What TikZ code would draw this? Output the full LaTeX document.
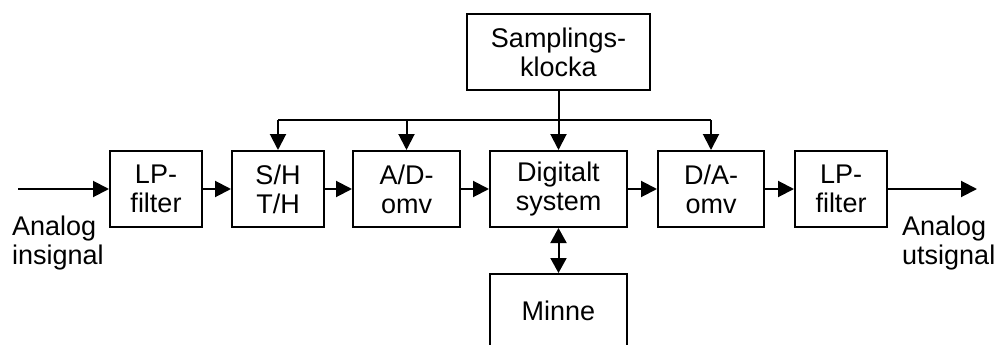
\documentclass[tikz,border=0pt]{standalone}
\usepackage{fontspec}
\setmainfont{Liberation Sans}
\usetikzlibrary{arrows.meta}
\begin{document}
\begin{tikzpicture}[x=1pt,y=-1pt,
  txt/.style={font=\fontsize{27}{29}\selectfont},
  box/.style={txt, draw, line width=2pt, align=center, inner sep=0pt,
              minimum height=76pt},
  lbl/.style={txt, align=left, inner sep=0pt},
  wire/.style={line width=2pt},
  sig/.style={wire, -{Triangle[length=16pt,width=16pt]}},
  bidir/.style={wire, {Triangle[length=15pt,width=16pt]}-{Triangle[length=15pt,width=16pt]}}]
  % page frame
  \fill[white] (0,0) rectangle (996,345);
  \useasboundingbox (0,0) rectangle (996,345);
  \clip (0,0) rectangle (996,345);

  % signal chain
  \node[box, minimum width=92pt]  (lp1) at (156,189)   {LP-\\filter};
  \node[box, minimum width=92pt]  (sh)  at (278,189)   {S/H\\T/H};
  \node[box, minimum width=107pt] (ad)  at (406.5,189) {A/D-\\omv};
  \node[box, minimum width=137pt] (dig) at (558.5,189) {Digitalt\\system};
  \node[box, minimum width=106pt] (da)  at (711,189)   {D/A-\\omv};
  \node[box, minimum width=92pt]  (lp2) at (841,189)   {LP-\\filter};

  % clock and memory
  \node[box, minimum width=183pt] (clk) at (558.5,52) {Samplings-\\klocka};
  \node[box, minimum width=137pt, minimum height=74pt, anchor=north]
        (minne) at (558.5,273) {Minne};

  % signal labels
  \node[lbl, anchor=west] (inlbl)  at (12,243)  {Analog\\insignal};
  \node[lbl, anchor=west] (outlbl) at (902,243) {Analog\\utsignal};

  \coordinate (in)  at (18,189);
  \coordinate (out) at (977,189);
  \coordinate (bus) at (0,120);

  % forward path
  \draw[sig] (in)  -- (lp1);
  \draw[sig] (lp1) -- (sh);
  \draw[sig] (sh)  -- (ad);
  \draw[sig] (ad)  -- (dig);
  \draw[sig] (dig) -- (da);
  \draw[sig] (da)  -- (lp2);
  \draw[sig] (lp2) -- (out);

  % clock distribution
  \draw[wire] (sh.north |- bus) -- (da.north |- bus);
  \draw[sig] (clk) -- (dig);
  \draw[sig] (sh.north |- bus) -- (sh.north);
  \draw[sig] (ad.north |- bus) -- (ad.north);
  \draw[sig] (da.north |- bus) -- (da.north);

  % memory access
  \draw[bidir] (dig) -- (minne);
\end{tikzpicture}
\end{document}
